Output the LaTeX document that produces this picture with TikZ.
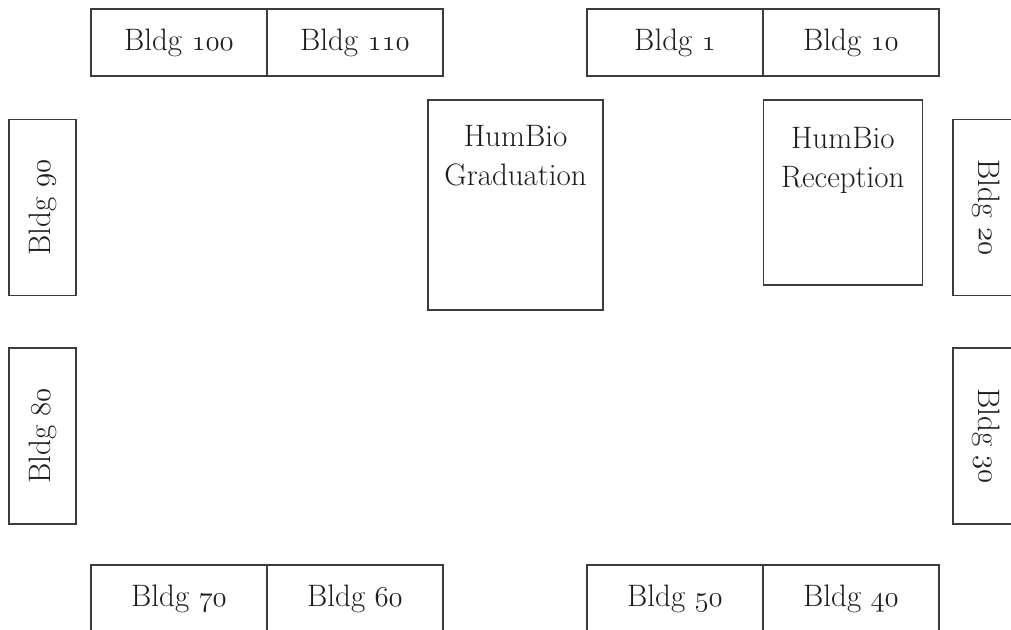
\documentclass[tikz,border=0pt]{standalone}
\usepackage{fontspec}
\usepackage{xcolor}
\usepackage{tikz}
\usetikzlibrary{positioning}
\definecolor{linegray}{RGB}{60,60,60}
\definecolor{textblack}{RGB}{30,28,28}
\newcommand{\bldgno}[1]{Bldg \legacyoldstylenums{#1}}

\begin{document}
\begin{tikzpicture}[x=0.5pt,y=-0.5pt]
    \tikzstyle{bldg} = [rectangle, draw=linegray, line width=0.7pt, minimum width=88pt, minimum height=33.5pt, inner sep=0pt, outer sep=0pt, text=textblack, font=\fontsize{15.5}{18}\selectfont]
    \tikzstyle{hall} = [rectangle, draw=linegray, line width=0.7pt, inner sep=0pt, outer sep=0pt]
    \tikzstyle{halltext} = [align=center, inner sep=0pt, text=textblack, font=\fontsize{15.5}{19.5}\selectfont]

    \useasboundingbox (0,0) rectangle (1011,630);

    % Top row
    \node [bldg] (b100) at (179,42.5) {\bldgno{100}};
    \node [bldg, right=0pt of b100] (b110) {\bldgno{110}};
    \node [bldg] (b1) at (675,42.5) {\bldgno{1}};
    \node [bldg, right=0pt of b1] (b10) {\bldgno{10}};

    % Left and right sides
    \node [bldg, rotate=90] (b90) at (42.5,207.5) {\bldgno{90}};
    \node [bldg, rotate=90] (b80) at (42.5,436) {\bldgno{80}};
    \node [bldg, rotate=-90] (b20) at (986.5,207.5) {\bldgno{20}};
    \node [bldg, rotate=-90] (b30) at (986.5,436) {\bldgno{30}};

    % Bottom row
    \node [bldg] (b70) at (179,598.5) {\bldgno{70}};
    \node [bldg, right=0pt of b70] (b60) {\bldgno{60}};
    \node [bldg] (b50) at (675,598.5) {\bldgno{50}};
    \node [bldg, right=0pt of b50] (b40) {\bldgno{40}};

    % HumBio
    \node [hall, minimum width=87.5pt, minimum height=105pt] (grad) at (515.5,205) {};
    \node [halltext, below=12.5pt of grad.north] (gradtext) {HumBio\\Graduation};
    \node [hall, minimum width=79.5pt, minimum height=92.5pt] (recep) at (842.75,192.5) {};
    \node [halltext, below=13.5pt of recep.north] (receptext) {HumBio\\Reception};
\end{tikzpicture}
\end{document}
